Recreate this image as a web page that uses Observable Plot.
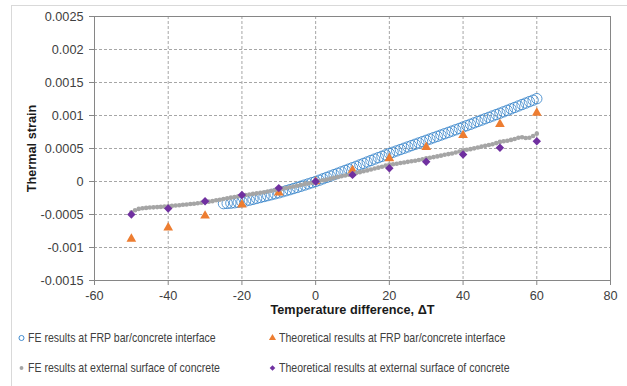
<!DOCTYPE html>
<html>
<head>
<meta charset="utf-8">
<script src="https://cdn.jsdelivr.net/npm/d3@7"></script>
<script src="https://cdn.jsdelivr.net/npm/@observablehq/plot@0.6"></script>
<style>
  html, body { margin: 0; padding: 0; background: #fff; }
  body { width: 627px; height: 386px; position: relative; overflow: hidden; font-family: "Liberation Sans", Arial, sans-serif; }
  #outer { position: absolute; left: 11px; top: 5px; width: 700px; height: 420px; border: 1px solid #d9d9d9; box-sizing: border-box; }
  #chart { position: absolute; left: 0; top: 0; }
  .leg { position: absolute; height: 16px; display: flex; align-items: center; white-space: nowrap; }
  .leg svg { flex: none; }
  .leg span { display: inline-block; font-size: 12.7px; color: #404040; transform: scaleX(0.83); transform-origin: left center; margin-left: 2px; }
</style>
</head>
<body>
<div id="outer"></div>
<div id="chart"></div>
<div id="legend"></div>
<script>
// Tick labels
const xTicks = [-60, -40, -20, 0, 20, 40, 60, 80];
const yTicks = [-0.0015, -0.001, -0.0005, 0, 0.0005, 0.001, 0.0015, 0.002, 0.0025];

// Series names
const seriesNames = [
  "FE results at FRP bar/concrete interface",
  "Theoretical results at FRP bar/concrete interface",
  "FE results at external surface of concrete",
  "Theoretical results at external surface of concrete"
];

// FE results at FRP bar/concrete interface
const feInterfaceDT = [-25,-24,-23,-22,-21,-20,-19,-18,-17,-16,-15,-14,-13,-12,-11,-10,-9,-8,-7,-6,-5,-4,-3,-2,-1,0,1,2,3,4,5,6,7,8,9,10,11,12,13,14,15,16,17,18,19,20,21,22,23,24,25,26,27,28,29,30,31,32,33,34,35,36,37,38,39,40,41,42,43,44,45,46,47,48,49,50,51,52,53,54,55,56,57,58,59,60];
const feInterfaceStrain = [-0.000335,-0.000332,-0.000328,-0.000322,-0.000315,-0.000306,-0.000295,-0.000283,-0.000270,-0.000256,-0.000242,-0.000228,-0.000214,-0.000200,-0.000186,-0.000172,-0.000156,-0.000140,-0.000124,-0.000107,-0.000090,-0.000072,-0.000054,-0.000036,-0.000018,0.000000,0.000020,0.000041,0.000062,0.000083,0.000104,0.000125,0.000146,0.000167,0.000188,0.000209,0.000230,0.000252,0.000274,0.000296,0.000318,0.000340,0.000361,0.000382,0.000403,0.000424,0.000444,0.000464,0.000484,0.000504,0.000524,0.000544,0.000564,0.000584,0.000604,0.000624,0.000644,0.000664,0.000684,0.000704,0.000724,0.000744,0.000764,0.000784,0.000804,0.000825,0.000846,0.000867,0.000888,0.000909,0.000930,0.000951,0.000972,0.000993,0.001014,0.001035,0.001056,0.001078,0.001100,0.001122,0.001144,0.001166,0.001188,0.001210,0.001232,0.001255];

// FE results at external surface of concrete
const feExternalDT = [-50,-49,-48,-47,-46,-45,-44,-43,-42,-41,-40,-39,-38,-37,-36,-35,-34,-33,-32,-31,-30,-29,-28,-27,-26,-25,-24,-23,-22,-21,-20,-19,-18,-17,-16,-15,-14,-13,-12,-11,-10,-9,-8,-7,-6,-5,-4,-3,-2,-1,0,1,2,3,4,5,6,7,8,9,10,11,12,13,14,15,16,17,18,19,20,21,22,23,24,25,26,27,28,29,30,31,32,33,34,35,36,37,38,39,40,41,42,43,44,45,46,47,48,49,50,51,52,53,54,55,56,57,58,59,60];
const feExternalStrain = [-0.000465,-0.000435,-0.000415,-0.000405,-0.000400,-0.000395,-0.000392,-0.000388,-0.000385,-0.000380,-0.000374,-0.000370,-0.000364,-0.000360,-0.000353,-0.000348,-0.000342,-0.000336,-0.000330,-0.000322,-0.000312,-0.000305,-0.000298,-0.000285,-0.000276,-0.000266,-0.000254,-0.000245,-0.000236,-0.000225,-0.000214,-0.000205,-0.000198,-0.000188,-0.000180,-0.000170,-0.000162,-0.000151,-0.000140,-0.000130,-0.000118,-0.000108,-0.000098,-0.000088,-0.000076,-0.000064,-0.000052,-0.000040,-0.000030,-0.000018,-0.000005,0.000007,0.000019,0.000031,0.000043,0.000055,0.000067,0.000079,0.000091,0.000103,0.000115,0.000128,0.000142,0.000155,0.000168,0.000182,0.000196,0.000210,0.000224,0.000240,0.000255,0.000262,0.000270,0.000280,0.000288,0.000298,0.000307,0.000315,0.000326,0.000338,0.000350,0.000360,0.000370,0.000380,0.000392,0.000405,0.000415,0.000425,0.000440,0.000455,0.000470,0.000480,0.000490,0.000502,0.000515,0.000528,0.000540,0.000552,0.000565,0.000582,0.000600,0.000610,0.000618,0.000630,0.000645,0.000662,0.000670,0.000658,0.000662,0.000690,0.000725];

// Theoretical results (every 10 degrees)
const theoryDT = [-50, -40, -30, -20, -10, 0, 10, 20, 30, 40, 50, 60];
const theoryInterfaceStrain = [-0.00087, -0.00070, -0.00052, -0.00035, -0.00017, 0, 0.00017, 0.00035, 0.00052, 0.00070, 0.00087, 0.00104];
const theoryExternalStrain = [-0.00050, -0.00041, -0.00030, -0.000205, -0.00010, 0, 0.00010, 0.00020, 0.00030, 0.00041, 0.00051, 0.00061];

const feInt = feInterfaceDT.map((x, i) => ({x, y: feInterfaceStrain[i]}));
const feExt = feExternalDT.map((x, i) => ({x, y: feExternalStrain[i]}));
const thInt = theoryDT.map((x, i) => ({x, y: theoryInterfaceStrain[i]}));
const thExt = theoryDT.map((x, i) => ({x, y: theoryExternalStrain[i]}));

const colors = { feInt: "#2E7FC8", thInt: "#ED7D31", feExt: "#A5A5A5", thExt: "#7030A0" };
const gridStyle = { stroke: "#a6a6a6", strokeWidth: 1, strokeDasharray: "3,2" };

const fmtY = d => (Math.abs(d) < 1e-12 ? "0" : String(+d.toFixed(4)));

const chart = Plot.plot({
  width: 627,
  height: 322,
  marginLeft: 94,
  marginRight: 17,
  marginTop: 16,
  marginBottom: 42,
  style: { fontFamily: "'Liberation Sans', Arial, sans-serif", fontSize: "12.7px", color: "#404040", background: "transparent" },
  x: { domain: [-60, 80], ticks: xTicks, tickFormat: d => String(d), tickSize: 5, tickPadding: 5, label: null },
  y: { domain: [-0.0015, 0.0025], ticks: yTicks, tickFormat: fmtY, tickSize: 5, tickPadding: 6, label: null },
  marks: [
    Plot.axisX({ ticks: xTicks, tickFormat: d => String(d), tickSize: 5, tickPadding: 5, fill: "#404040", stroke: "#868686", label: null }),
    Plot.axisY({ ticks: yTicks, tickFormat: fmtY, tickSize: 5, tickPadding: 6, fill: "#404040", stroke: "#868686", label: null }),
    Plot.ruleX(xTicks, gridStyle),
    Plot.ruleY(yTicks, gridStyle),
    Plot.frame({ stroke: "#868686", strokeWidth: 1 }),
    Plot.dot(feInt, { x: "x", y: "y", r: 5.2, stroke: colors.feInt, strokeWidth: 0.8, fill: "none" }),
    Plot.dot(thInt, { x: "x", y: "y", symbol: "triangle", r: 3.6, fill: colors.thInt, stroke: "none" }),
    Plot.dot(feExt, { x: "x", y: "y", r: 2.3, fill: colors.feExt, stroke: "none" }),
    Plot.dot(thExt, { x: "x", y: "y", symbol: "diamond2", r: 3.8, fill: colors.thExt, stroke: "none" }),
    Plot.text(["Temperature difference, \u0394T"], { frameAnchor: "bottom", dy: 33, fontWeight: "bold", fill: "#1a1a1a", fontSize: 12.7 }),
    Plot.text(["Thermal strain"], { frameAnchor: "left", textAnchor: "middle", rotate: -90, dx: -62.5, fontWeight: "bold", fill: "#1a1a1a", fontSize: 12.7 })
  ]
});
document.getElementById("chart").appendChild(chart);

// Legend
const legendItems = [
  { name: seriesNames[0], left: 17, top: 330, sym: "circle", fill: "none", stroke: colors.feInt, size: 20 },
  { name: seriesNames[1], left: 268, top: 330, sym: "triangle", fill: colors.thInt, stroke: "none", size: 22 },
  { name: seriesNames[2], left: 17, top: 360, sym: "circle", fill: colors.feExt, stroke: "none", size: 12 },
  { name: seriesNames[3], left: 268, top: 360, sym: "diamond2", fill: colors.thExt, stroke: "none", size: 20 }
];
const symMap = { circle: d3.symbolCircle, triangle: d3.symbolTriangle, diamond2: d3.symbolDiamond2 };
const legend = d3.select("#legend");
legendItems.forEach(it => {
  const row = legend.append("div").attr("class", "leg").style("left", it.left + "px").style("top", it.top + "px");
  const s = row.append("svg").attr("width", 9).attr("height", 16);
  s.append("path")
    .attr("transform", "translate(4.5,8)")
    .attr("d", d3.symbol(symMap[it.sym], it.size)())
    .attr("fill", it.fill)
    .attr("stroke", it.stroke)
    .attr("stroke-width", 0.9);
  row.append("span").text(it.name);
});
</script>
</body>
</html>
